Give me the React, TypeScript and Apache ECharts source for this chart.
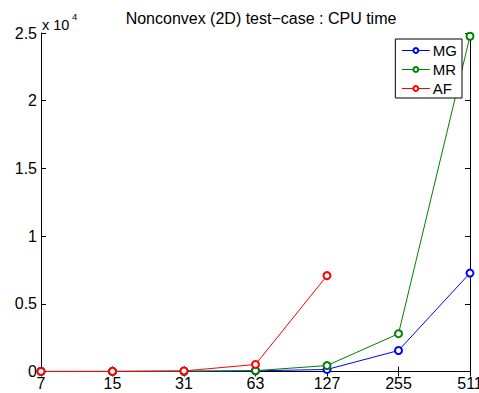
import React, { useEffect, useRef } from "react";
import * as echarts from "echarts";

const categories = ["7", "15", "31", "63", "127", "255", "511"];
const mgValues = [2, 5, 15, 50, 150, 1550, 7270];
const mrValues = [2, 5, 18, 60, 440, 2790, 24760];
const afValues = [3, 8, 40, 520, 7080];
const yTicks = [0, 5000, 10000, 15000, 20000, 25000];

const FONT = "Liberation Sans, Arial, Helvetica, sans-serif";

export default function App() {
  const ref = useRef<HTMLDivElement>(null);
  useEffect(() => {
    if (!ref.current) return;
    const chart = echarts.init(ref.current, null, { renderer: "svg" });
    const tickLabel = { color: "#000", fontFamily: FONT, fontSize: 16 };
    const sym = (color: string) => ({
      type: "line" as const,
      symbol: "emptyCircle",
      symbolSize: 7,
      showSymbol: true,
      lineStyle: { color, width: 1 },
      itemStyle: { color, borderColor: color, borderWidth: 0.9 },
      emphasis: { disabled: true },
    });
    chart.setOption({
      animation: false,
      backgroundColor: "#fff",
      grid: {
        left: 41,
        right: 9,
        top: 33,
        bottom: 21.5,
        containLabel: false,
        outerBoundsMode: "none",
      },
      title: {
        text: "Nonconvex (2D) test\u2212case : CPU time",
        left: 256,
        textAlign: "center",
        top: 5,
        textStyle: { fontFamily: FONT, fontSize: 16, fontWeight: "normal", color: "#000" },
      },
      graphic: [
        {
          type: "text",
          left: 42,
          top: 17,
          style: { text: "x 10", fontFamily: FONT, fontSize: 14.5, fill: "#000" },
        },
        {
          type: "text",
          left: 72,
          top: 11,
          style: { text: "4", fontFamily: FONT, fontSize: 9.5, fill: "#000" },
        },
      ],
      legend: {
        orient: "vertical",
        right: 17,
        top: 39,
        borderColor: "#000",
        borderWidth: 1,
        backgroundColor: "#fff",
        padding: [4, 5, 2, 6],
        itemWidth: 28,
        itemHeight: 6,
        itemGap: 4,
        borderRadius: 0,
        itemStyle: { borderWidth: 1 },
        lineStyle: { width: 1 },
        textStyle: { fontFamily: FONT, fontSize: 15, color: "#000", padding: [0, 0, 0, -2] },
        data: ["MG", "MR", "AF"],
      },
      xAxis: [
        {
          type: "category",
          data: categories,
          boundaryGap: false,
          axisLine: { lineStyle: { color: "#000", width: 1 } },
          axisTick: { inside: true, length: 5, alignWithLabel: true, lineStyle: { color: "#000" } },
          axisLabel: { ...tickLabel, margin: 4, interval: 0 },
          splitLine: { show: false },
        },
        {
          type: "category",
          data: categories,
          boundaryGap: false,
          position: "top",
          axisLine: { lineStyle: { color: "#000", width: 1 } },
          axisTick: { inside: true, length: 5, lineStyle: { color: "#000" } },
          axisLabel: { show: false },
          splitLine: { show: false },
        },
      ],
      yAxis: [
        {
          type: "value",
          min: 0,
          max: 25000,
          interval: 5000,
          axisLine: { show: true, lineStyle: { color: "#000", width: 1 } },
          axisTick: { show: true, inside: true, length: 5, lineStyle: { color: "#000" } },
          axisLabel: {
            ...tickLabel,
            margin: 4,
            formatter: (v: number) => (yTicks.includes(v) ? String(v / 10000) : ""),
          },
          splitLine: { show: false },
        },
        {
          type: "value",
          min: 0,
          max: 25000,
          interval: 5000,
          position: "right",
          axisLine: { show: true, lineStyle: { color: "#000", width: 1 } },
          axisTick: { show: true, inside: true, length: 5, lineStyle: { color: "#000" } },
          axisLabel: { show: false },
          splitLine: { show: false },
        },
      ],
      series: [
        { name: "MG", data: mgValues, ...sym("#0000ff") },
        { name: "MR", data: mrValues, ...sym("#008000") },
        { name: "AF", data: afValues, ...sym("#ff0000") },
      ],
    });
    return () => chart.dispose();
  }, []);
  return <div ref={ref} style={{ position: "absolute", left: 0, top: 0, width: 479, height: 393 }} />;
}
